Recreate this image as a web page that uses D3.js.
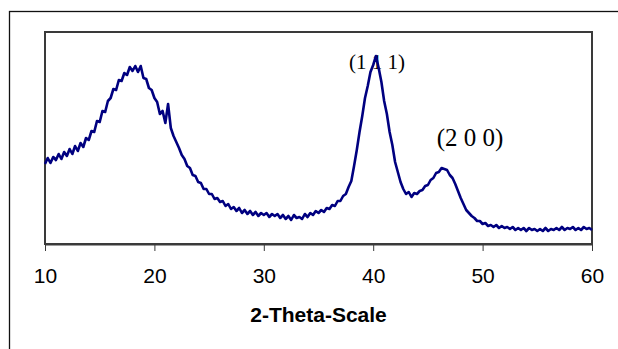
<!DOCTYPE html>
<html>
    <head>
        <meta charset="UTF-8">
        <script src="https://d3js.org/d3.v7.min.js"></script>
        <style>
            body { margin: 0; background: #fff; }
        </style>
    </head>

    <body>

        <svg id="canvas"></svg>

        <script>

            width = 618;
            height = 349;
            margin = {left:45, right:26, top:32, bottom:105 }

            // sampled at 10.00, 10.25, ... 60.00 degrees
            thetaStart = 10;
            thetaStep = 0.25;
            intensity = [
                80, 86, 81, 87, 84, 90, 85, 92, 88, 95, 90, 98, 93, 101, 97, 106,
                104, 113, 112, 123, 122, 133, 132, 143, 146, 155, 154, 164, 163, 171, 169, 177,
                173, 178, 172, 178, 166, 165, 156, 154, 146, 142, 130, 133, 121, 140, 116, 108,
                102, 96, 89, 85, 78, 76, 69, 68, 62, 61, 55, 55, 50, 50, 45, 46,
                42, 43, 38, 40, 35, 37, 33, 36, 31, 34, 30, 33, 29, 32, 28, 31,
                29, 31, 27, 30, 28, 30, 26, 29, 25, 28, 24, 29, 26, 27, 25, 30,
                27, 31, 29, 33, 31, 34, 32, 36, 35, 39, 38, 43, 43, 48, 50, 57,
                63, 78, 94, 112, 128, 146, 158, 172, 179, 188, 176, 162, 143, 130, 112, 99,
                82, 72, 62, 55, 50, 52, 47, 51, 50, 53, 54, 58, 59, 64, 66, 71,
                72, 76, 75, 74, 69, 66, 60, 53, 46, 40, 34, 31, 28, 26, 23, 23,
                20, 21, 18, 19, 17, 19, 16, 18, 16, 17, 15, 17, 14, 16, 14, 16,
                13, 16, 14, 15, 13, 15, 13, 16, 13, 15, 14, 16, 14, 17, 14, 16,
                15, 17, 14, 16, 14, 17, 15, 16, 14
            ];

            xTicks = [10, 20, 30, 40, 50, 60];
            xTitle = "2-Theta-Scale";
            peaks = [
                {label: "(1 1 1)", theta: 40.35, level: 175, size: 21},
                {label: "(2 0 0)", theta: 48.85, level: 98, size: 25}
            ];

            data = intensity.map((v, i) => ({ theta: thetaStart + i * thetaStep, v: v }));

            w = width - margin.left - margin.right;
            h = height - margin.top - margin.bottom;

            canvas = d3.select("#canvas")
                .attr("width", width)
                .attr("height", height)

            // outer chart border, runs past right/bottom edge
            canvas.append("rect")
                .attr("x", 9.5).attr("y", 11.5)
                .attr("width", 700).attr("height", 400)
                .attr("style", "fill:none; stroke:#111; stroke-width:1.3;")

            chart = canvas.append("g")
                .attr("transform", "translate(" + margin.left + ", " + margin.top + ")");

            x = d3.scaleLinear()
                .domain([10, 60])
                .range([0, w]);

            y = d3.scaleLinear()
                .domain([0, 212])
                .range([h, 0]);

            chart.append("rect")
                .attr("width", w).attr("height", h)
                .attr("style", "fill:none; stroke:#3a3a3a; stroke-width:2;")

            xAxis = chart.append("g")
                .attr("transform", "translate(0," + h + ")")
                .call(d3.axisBottom(x).tickValues(xTicks).tickSize(7).tickPadding(17).tickSizeOuter(0))

            xAxis.select(".domain").attr("stroke", "#3a3a3a").attr("stroke-width", 2)
            xAxis.selectAll(".tick line").attr("stroke", "#3a3a3a").attr("stroke-width", 1)
            xAxis.selectAll(".tick text")
                .attr("style", "font-family: Arial, 'Liberation Sans', sans-serif; font-size:21px; fill:#000;")

            chart.append("text")
                .attr("x", w / 2)
                .attr("y", h + 78)
                .attr("text-anchor", "middle")
                .attr("style", "font-family: Arial, 'Liberation Sans', sans-serif; font-size:21px; font-weight:bold; fill:#000;")
                .text(xTitle)

            // peak labels sit under the trace
            chart.selectAll(".peak")
                .data(peaks).enter()
                    .append("text")
                        .attr("class", "peak")
                        .attr("x", d => x(d.theta))
                        .attr("y", d => y(d.level))
                        .attr("text-anchor", "middle")
                        .attr("style", d => "font-family: 'Times New Roman', 'Liberation Serif', serif; fill:#000; font-size:" + d.size + "px;")
                        .text(d => d.label)

            line = d3.line()
                .x( d => x(d.theta) )
                .y( d => y(d.v) );

            chart.append("path")
                .attr("d", line(data))
                .attr("style", "fill:none; stroke:#000080; stroke-width:2.6; stroke-linejoin:round;")

        </script>

    </body>

</html>
